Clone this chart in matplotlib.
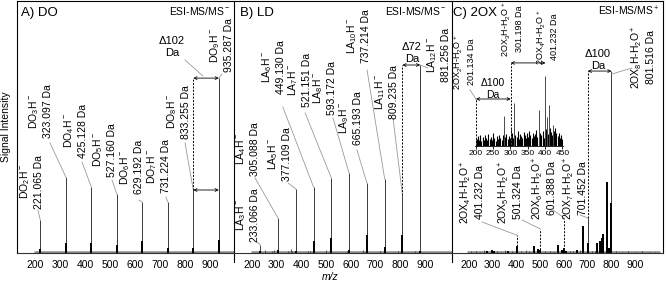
import matplotlib.pyplot as plt

plt.rcParams['font.family'] = ['Liberation Sans', 'DejaVu Sans']
plt.rcParams['mathtext.default'] = 'regular'
plt.rcParams['axes.linewidth'] = 0.8

# ---- data (relative intensity, % of panel height) ----
# A) DO, negative mode
do_mz = [221.065, 323.097, 425.128, 527.160, 629.192, 731.224, 833.255, 935.287]
do_int = [13.1, 30.2, 26.2, 23.4, 20.2, 20.2, 25.0, 69.4]
do_base = [1.6, 4.0, 4.0, 3.2, 4.8, 2.0, 2.0, 5.2]
do_names = ['DO$_2$H$^-$', 'DO$_3$H$^-$', 'DO$_4$H$^-$', 'DO$_5$H$^-$',
            'DO$_6$H$^-$', 'DO$_7$H$^-$', 'DO$_8$H$^-$', 'DO$_9$H$^-$']

# B) LD, negative mode
ld_mz = [233.066, 305.088, 377.109, 449.130, 521.151, 593.172, 665.193,
         737.214, 809.235, 881.256]
ld_int = [3.2, 13.9, 25.4, 26.2, 29.8, 31.7, 27.8, 29.4, 23.0, 74.6]
ld_base = [0.8, 1.2, 0.8, 4.8, 6.0, 1.2, 7.1, 2.4, 7.1, 0.8]
ld_names = ['LA$_3$H$^-$', 'LA$_4$H$^-$', 'LA$_5$H$^-$', 'LA$_6$H$^-$',
            'LA$_7$H$^-$', 'LA$_8$H$^-$', 'LA$_9$H$^-$', 'LA$_{10}$H$^-$',
            'LA$_{11}$H$^-$', 'LA$_{12}$H$^-$']
ld_noise_mz = [252, 280, 290, 347, 358, 362, 428, 433, 500, 583, 651, 720, 790, 860]
ld_noise_int = [1.2, 0.8, 1.0, 0.8, 1.4, 0.7, 0.9, 0.6, 1.0, 0.8, 1.2, 0.7, 0.9, 0.6]

# C) 2OX, positive mode
ox_mz = [274.6, 295.6, 306.9, 366.0, 401.232, 475.7, 492.6, 501.324, 576.9,
         593.7, 601.388, 608.0, 657.0, 682.3, 701.452, 738.8, 752.7, 759.7,
         764.0, 783.5, 792.0, 801.516]
ox_int = [0.9, 1.3, 0.9, 0.7, 2.6, 2.6, 1.7, 1.3, 3.3, 1.3, 2.0, 0.9, 1.3,
          10.6, 13.9, 4.0, 4.6, 6.0, 7.7, 28.2, 2.0, 72.2]
ox_base = [0.9, 1.3, 0.9, 0.7, 2.6, 2.6, 1.7, 1.3, 3.3, 1.3, 2.0, 0.9, 1.3,
           10.6, 4.0, 4.0, 4.6, 6.0, 7.7, 28.2, 2.0, 19.8]
ox_noise_mz = [210, 228, 246, 262, 318, 335, 350, 380, 420, 440, 455, 520, 540,
               560, 625, 640, 670, 720, 730, 820, 845, 870, 900, 930, 960, 985]
ox_noise_int = [0.6, 0.9, 0.5, 1.0, 0.7, 0.5, 1.1, 0.6, 0.8, 1.0, 0.6, 0.7, 0.9,
                0.5, 0.8, 0.6, 1.0, 0.7, 0.9, 0.6, 0.5, 0.7, 0.4, 0.6, 0.5, 0.4]
ox_lab_mz = [401.232, 501.324, 601.388, 701.452, 801.516]
ox_names = ['2OX$_4$H-H$_2$O$^+$', '2OX$_5$H-H$_2$O$^+$', '2OX$_6$H-H$_2$O$^+$',
            '2OX$_7$H-H$_2$O$^+$', '2OX$_8$H-H$_2$O$^+$']

# C inset, 200-450 zoom (% of 401 peak)
in_mz = [201.134, 282, 301.198, 311, 382, 401.232, 406, 411, 423]
in_int = [11, 43, 26, 61, 51, 100, 41, 59, 30]
in_noise_mz = [203, 206, 209, 212, 214, 217, 221, 224, 227, 231,
               234, 237, 241, 244, 247, 251, 254, 258, 261, 264,
               268, 271, 275, 278, 285, 288, 292, 295, 298, 304,
               307, 314, 318, 321, 325, 328, 331, 335, 338, 342,
               345, 348, 352, 355, 358, 362, 365, 368, 372, 375,
               378, 386, 389, 393, 396, 403, 408, 414, 417, 420,
               426, 429, 432, 436, 439, 442, 446, 449]
in_noise_int = [10, 14, 8, 16, 11, 7, 13, 9, 15, 12,
                8, 17, 10, 13, 9, 18, 11, 7, 14, 10,
                16, 12, 9, 15, 13, 17, 10, 14, 12, 19,
                11, 16, 13, 21, 10, 17, 14, 12, 20, 15,
                11, 18, 13, 22, 16, 12, 19, 14, 17, 23,
                13, 18, 15, 21, 12, 24, 17, 26, 20, 15,
                22, 25, 18, 14, 19, 12, 16, 10]
in_lab_mz = [201.134, 301.198, 401.232]
in_names = ['2OX$_2$H-H$_2$O$^+$', '2OX$_3$H-H$_2$O$^+$', '2OX$_4$H-H$_2$O$^+$']

ticks = [200, 300, 400, 500, 600, 700, 800, 900]

# ---- layout: label centres and leader start points (data coords) ----
do_lx = [184, 220, 360, 476, 584, 692, 772, 944]
do_ly = [28.2, 56.3, 48.4, 40.9, 34.1, 34.5, 56.0, 82.5]
do_tx = [212, 260, 388, 508, 616, 724, 800, 948]
do_ty = [17.1, 43.7, 36.1, 29.0, 21.0, 22.2, 43.7, 71.0]

ld_lx = [180, 180, 309, 285, 390, 491, 597, 629, 742, 953]
ld_ly = [15.1, 41.3, 39.3, 73.8, 68.7, 65.5, 53.6, 86.1, 63.9, 78.6]
ld_tx = [220, 212, 346, 325, 415, 528, 625, 666, 771, 913]
ld_ty = [4.4, 29.8, 27.8, 57.9, 55.6, 53.6, 40.9, 72.6, 53.6, 73.4]

ox_lx = [213, 373, 516, 647, 934]
ox_ly = [24.2, 24.2, 25.8, 25.8, 77.8]
ox_tx = [255, 424, 554, 668, 888]
ox_ty = [12.3, 13.1, 17.1, 15.1, 73.4]
ox_ey = [7.1, 9.5, 13.9, 13.9, 71.0]

W, H = 667, 284
fig = plt.figure(figsize=(W / 100, H / 100), dpi=100)


def px_axes(x0, x1, y0, y1):
    return fig.add_axes([x0 / W, 1 - y1 / H, (x1 - x0) / W, (y1 - y0) / H])


def frame(ax, xlim, right=False, sep=False):
    ax.set_xlim(*xlim)
    ax.set_ylim(0, 100)
    ax.set_yticks([])
    ax.set_xticks(ticks)
    ax.tick_params(axis='x', length=0, pad=5, labelsize=7.5)
    ax.spines['right'].set_visible(right)
    ax.spines['bottom'].set_color('#333333')
    if sep:
        ax.spines['left'].set_bounds(-3.6, 100)


def baseline(ax, x0, x1):
    ax.plot([x0, x1], [0.35, 0.35], color='#8a8a8a', lw=1.8, solid_capstyle='butt')


def peaks(ax, mz, inten, base):
    ax.vlines(mz, 0, inten, color='#3a3a3a', lw=0.7)
    ax.vlines(mz, 0, base, color='black', lw=1.4)


def labels(ax, mz, names, lx, ly, tx, ty, ey, size=7.5):
    for m, n, x, y, a, b, e in zip(mz, names, lx, ly, tx, ty, ey):
        ax.text(x, y, f'{n}\n{m:.3f} Da', rotation=90, ha='center', va='center',
                multialignment='center', fontsize=size)
        if a is not None:
            ax.plot([a, m], [b, e], color='#9a9a9a', lw=0.6, clip_on=False)


def dotted(ax, x, y0, y1):
    ax.vlines(x, y0, y1, color='black', lw=0.7, linestyles=(0, (2, 1.5)))


def delta(ax, x1, x2, y, txt, tx, ty, size=8):
    ax.annotate('', xy=(x2, y), xytext=(x1, y),
                arrowprops=dict(arrowstyle='<->', lw=0.6, mutation_scale=5,
                                shrinkA=0, shrinkB=0, color='black'))
    ax.text(tx, ty, txt, ha='center', va='center', fontsize=size, linespacing=1.25)


# ---- A) DO ----
axA = px_axes(17, 234, 1, 253)
frame(axA, (128, 996))
baseline(axA, 195, 1000)
peaks(axA, do_mz, do_int, do_base)
labels(axA, do_mz, do_names, do_lx, do_ly, do_tx, do_ty, do_int)
dotted(axA, do_mz[6], do_int[6], do_int[7])
delta(axA, do_mz[6], do_mz[7], do_int[7], '\u0394102\nDa', 748, 81.7)
delta(axA, do_mz[6], do_mz[7], do_int[6], '', 0, 0)
axA.plot([800, 872], [76.6, 70.2], color='#9a9a9a', lw=0.6)
axA.set_ylabel('Signal Intensity', fontsize=7.5, labelpad=4)
axA.text(0.018, 0.976, 'A) DO', transform=axA.transAxes, ha='left', va='top', fontsize=9.5)
axA.text(0.982, 0.984, 'ESI-MS/MS$^-$', transform=axA.transAxes, ha='right', va='top', fontsize=7.5)

# ---- B) LD ----
axB = px_axes(234, 452, 1, 253)
frame(axB, (127, 1010), sep=True)
baseline(axB, 196, 1010)
axB.vlines(ld_noise_mz, 0, ld_noise_int, color='#3a3a3a', lw=0.6)
peaks(axB, ld_mz, ld_int, ld_base)
labels(axB, ld_mz, ld_names, ld_lx, ld_ly, ld_tx, ld_ty, ld_int)
dotted(axB, ld_mz[8], ld_int[8], ld_int[9])
delta(axB, ld_mz[8], ld_mz[9], ld_int[9], '\u039472\nDa', 848, 79.4)
axB.text(0.028, 0.976, 'B) LD', transform=axB.transAxes, ha='left', va='top', fontsize=9.5)
axB.text(0.977, 0.984, 'ESI-MS/MS$^-$', transform=axB.transAxes, ha='right', va='top', fontsize=7.5)
fig.text(330 / W, 1 - 277 / H, 'm/z', style='italic', ha='center', va='center', fontsize=7.5)

# ---- C) 2OX ----
axC = px_axes(452, 663, 1, 253)
frame(axC, (128, 1019), right=True, sep=True)
baseline(axC, 190, 1006)
axC.vlines(ox_noise_mz, 0, ox_noise_int, color='#3a3a3a', lw=0.6)
peaks(axC, ox_mz, ox_int, ox_base)
for m, e in zip(ox_lab_mz[:3], ox_ey[:3]):
    dotted(axC, m, 0, e)
labels(axC, ox_lab_mz, ox_names, ox_lx, ox_ly, ox_tx, ox_ty, ox_ey)
dotted(axC, ox_lab_mz[3], ox_ey[3], ox_int[-1])
delta(axC, ox_lab_mz[3], ox_lab_mz[4], ox_int[-1], '\u0394100\nDa', 744, 76.6)
axC.text(0.005, 0.976, 'C) 2OX', transform=axC.transAxes, ha='left', va='top', fontsize=9.5)
axC.text(0.986, 0.984, 'ESI-MS/MS$^+$', transform=axC.transAxes, ha='right', va='top', fontsize=7.5)

# inset 200-450
axI = px_axes(475.2, 562.8, 1, 146)
axI.patch.set_visible(False)
axI.set_xlim(199, 451)
axI.set_ylim(0, 207)
axI.set_yticks([])
axI.set_xticks([200, 250, 300, 350, 400, 450])
axI.tick_params(axis='x', length=2, pad=1, labelsize=6, width=0.6)
for s in ['top', 'right', 'left']:
    axI.spines[s].set_visible(False)
axI.spines['bottom'].set_linewidth(0.6)
axI.vlines(in_noise_mz, 0, in_noise_int, color='black', lw=0.8)
axI.vlines(in_mz, 0, in_int, color='#4a4a4a', lw=0.7)
dotted(axI, in_lab_mz[0], 0, 67.1)
dotted(axI, in_lab_mz[1], 0, 118.6)
labels(axI, in_lab_mz, in_names, [167, 305, 405.5], [120, 167, 155.7],
       [184.2, None, None], [80, None, None], [67.1, None, None], size=6.5)
delta(axI, in_lab_mz[0], in_lab_mz[1], 67.1, '\u0394100\nDa', 250.3, 81.4, size=7.5)
delta(axI, in_lab_mz[1], in_lab_mz[2], 118.6, '', 0, 0)

fig.savefig('out.png', dpi=100)
